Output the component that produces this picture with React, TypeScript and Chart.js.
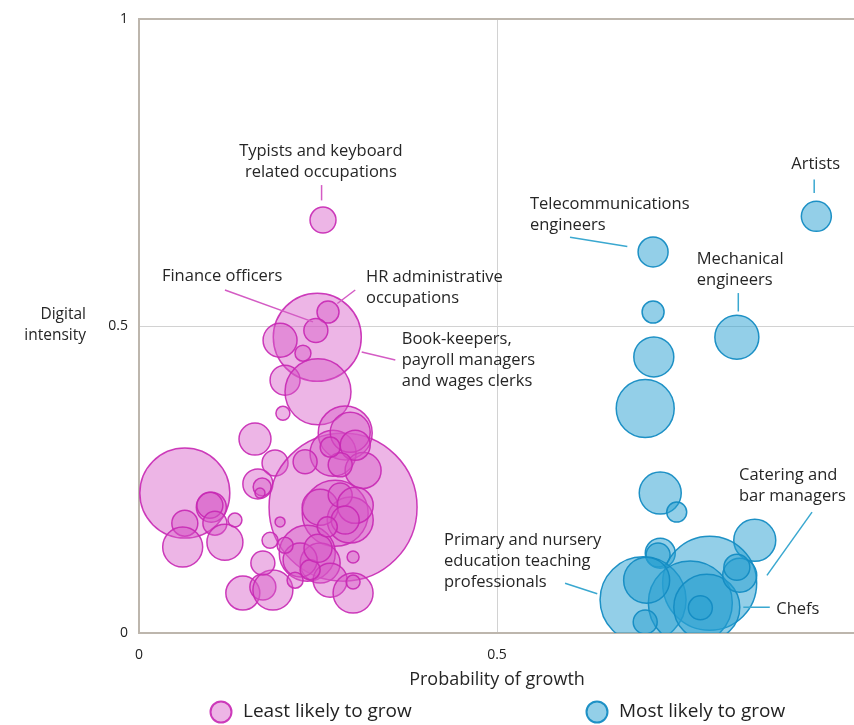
import React, { useEffect, useRef } from "react";
import { Chart, registerables } from "chart.js";

Chart.register(...registerables);

// ---- Data ----
const seriesNames = ["Least likely to grow", "Most likely to grow"];

const leastX = [0.257, 0.249, 0.264, 0.247, 0.197, 0.229, 0.204, 0.25, 0.201, 0.162, 0.19, 0.166, 0.172, 0.169, 0.064, 0.101, 0.099, 0.106, 0.064, 0.061, 0.12, 0.134, 0.285, 0.288, 0.271, 0.313, 0.274, 0.295, 0.253, 0.299, 0.235, 0.253, 0.225, 0.267, 0.145, 0.173, 0.187, 0.173, 0.299, 0.299, 0.197, 0.295, 0.302, 0.281, 0.267, 0.239, 0.25, 0.204, 0.218, 0.183, 0.281, 0.302, 0.288, 0.263, 0.232];
const leastY = [0.673, 0.482, 0.523, 0.493, 0.477, 0.456, 0.412, 0.393, 0.358, 0.316, 0.277, 0.243, 0.238, 0.228, 0.228, 0.205, 0.208, 0.179, 0.179, 0.14, 0.148, 0.184, 0.205, 0.326, 0.293, 0.265, 0.195, 0.184, 0.205, 0.124, 0.13, 0.114, 0.119, 0.086, 0.065, 0.075, 0.07, 0.114, 0.065, 0.083, 0.181, 0.327, 0.306, 0.274, 0.303, 0.103, 0.138, 0.143, 0.086, 0.151, 0.225, 0.208, 0.184, 0.173, 0.279];
const leastR = [13, 44, 11, 12, 17, 8, 15, 33, 7, 16, 13, 15, 9, 5, 45, 15, 13, 12, 13, 20, 18, 7, 74, 27, 23, 18, 33, 23, 18, 6, 28, 20, 17, 17, 17, 13, 20, 12, 20, 7, 5, 20, 15, 12, 10, 10, 14, 8, 8, 8, 12, 18, 14, 10, 12];

const mostX = [0.946, 0.718, 0.718, 0.835, 0.719, 0.707, 0.728, 0.751, 0.86, 0.728, 0.725, 0.797, 0.704, 0.77, 0.793, 0.784, 0.839, 0.835, 0.707, 0.709];
const mostY = [0.679, 0.621, 0.523, 0.482, 0.45, 0.366, 0.228, 0.197, 0.151, 0.13, 0.127, 0.081, 0.054, 0.049, 0.042, 0.041, 0.094, 0.107, 0.018, 0.086];
const mostR = [15, 15, 11, 22, 20, 29, 21, 10, 21, 15, 12, 47, 43, 42, 33, 12, 17, 13, 12, 23];

const xTicks = [0, 0.5];
const xTickLabels = ["0", "0.5"];
const yTicks = [0, 0.5, 1];
const yTickLabels = ["0", "0.5", "1"];

const xTitle = "Probability of growth";
const yTitle = ["Digital", "intensity"];

// Callout labels (data units), series index 0 = least, 1 = most
const callouts = [
  { s: 0, lines: ["Typists and keyboard", "related occupations"], tx: 0.254, ty: 0.785, align: "center", l: [0.255, 0.73, 0.255, 0.705] },
  { s: 0, lines: ["Finance officers"], tx: 0.032, ty: 0.581, align: "left", l: [0.12, 0.559, 0.243, 0.507] },
  { s: 0, lines: ["HR administrative", "occupations"], tx: 0.317, ty: 0.58, align: "left", l: [0.302, 0.559, 0.277, 0.537] },
  { s: 0, lines: ["Book-keepers,", "payroll managers", "and wages clerks"], tx: 0.367, ty: 0.479, align: "left", l: [0.311, 0.458, 0.358, 0.445] },
  { s: 1, lines: ["Telecommunications", "engineers"], tx: 0.546, ty: 0.699, align: "left", l: [0.602, 0.645, 0.682, 0.63] },
  { s: 1, lines: ["Artists"], tx: 0.911, ty: 0.764, align: "left", l: [0.943, 0.739, 0.943, 0.717] },
  { s: 1, lines: ["Mechanical", "engineers"], tx: 0.779, ty: 0.609, align: "left", l: [0.837, 0.554, 0.837, 0.524] },
  { s: 1, lines: ["Catering and", "bar managers"], tx: 0.838, ty: 0.257, align: "left", l: [0.94, 0.197, 0.877, 0.094] },
  { s: 1, lines: ["Primary and nursery", "education teaching", "professionals"], tx: 0.426, ty: 0.151, align: "left", l: [0.595, 0.081, 0.64, 0.064] },
  { s: 1, lines: ["Chefs"], tx: 0.89, ty: 0.039, align: "left", l: [0.844, 0.042, 0.881, 0.042] },
];

const FONT = '"Open Sans", "DejaVu Sans", sans-serif';
const fills = ["rgba(214, 90, 200, 0.45)", "rgba(40, 160, 210, 0.5)"];
const borders = ["rgba(200, 40, 180, 0.9)", "rgba(20, 140, 195, 0.95)"];
const leaderColors = ["#d45cc4", "#3aa8d0"];
const AXIS = "#bdb6ad";

const overlay = {
  id: "overlay",
  afterDatasetsDraw(chart: any) {
    const { ctx, scales } = chart;
    const xs = scales.x, ys = scales.y;
    ctx.save();
    // callouts
    ctx.font = `16.5px ${FONT}`;
    ctx.textBaseline = "middle";
    for (const c of callouts) {
      ctx.strokeStyle = leaderColors[c.s];
      ctx.lineWidth = 1.5;
      ctx.beginPath();
      ctx.moveTo(xs.getPixelForValue(c.l[0]), ys.getPixelForValue(c.l[1]));
      ctx.lineTo(xs.getPixelForValue(c.l[2]), ys.getPixelForValue(c.l[3]));
      ctx.stroke();
      ctx.fillStyle = "#262626";
      ctx.textAlign = c.align as CanvasTextAlign;
      const px = xs.getPixelForValue(c.tx);
      const py = ys.getPixelForValue(c.ty);
      c.lines.forEach((t, i) => ctx.fillText(t, px, py + i * 21));
    }
    // axis titles
    ctx.fillStyle = "#262626";
    ctx.font = `18px ${FONT}`;
    ctx.textAlign = "center";
    ctx.fillText(xTitle, (xs.getPixelForValue(0) + xs.getPixelForValue(1)) / 2, 680);
    ctx.font = `15.5px ${FONT}`;
    ctx.textAlign = "right";
    const yMid = ys.getPixelForValue(0.5);
    ctx.fillText(yTitle[0], 86, yMid - 12);
    ctx.fillText(yTitle[1], 86, yMid + 9);
    // legend
    const legendX = [221, 597];
    ctx.font = `19px ${FONT}`;
    ctx.textAlign = "left";
    seriesNames.forEach((name, i) => {
      ctx.beginPath();
      ctx.arc(legendX[i], 712, 10.5, 0, Math.PI * 2);
      ctx.fillStyle = fills[i];
      ctx.fill();
      ctx.strokeStyle = borders[i];
      ctx.lineWidth = 2;
      ctx.stroke();
      ctx.fillStyle = "#222";
      ctx.fillText(name, legendX[i] + 22, 712);
    });
    ctx.restore();
  },
};

export default function App() {
  const ref = useRef<HTMLCanvasElement | null>(null);
  useEffect(() => {
    if (!ref.current) return;
    const toPts = (xa: number[], ya: number[], ra: number[]) => xa.map((x, i) => ({ x, y: ya[i], r: ra[i] }));
    const chart = new Chart(ref.current, {
      type: "bubble",
      data: {
        datasets: [
          { label: seriesNames[0], data: toPts(leastX, leastY, leastR), backgroundColor: fills[0], borderColor: borders[0], borderWidth: 1.5 },
          { label: seriesNames[1], data: toPts(mostX, mostY, mostR), backgroundColor: fills[1], borderColor: borders[1], borderWidth: 1.5 },
        ],
      },
      options: {
        responsive: false,
        animation: false,
        events: [],
        layout: { autoPadding: false, padding: { top: 19, right: 0, left: 0, bottom: 0 } },
        plugins: { legend: { display: false }, tooltip: { enabled: false } },
        scales: {
          x: {
            type: "linear",
            min: 0,
            max: 0.9986,
            afterBuildTicks: (s: any) => { s.ticks = xTicks.map((v) => ({ value: v })); },
            afterFit: (s: any) => { s.height = 92; },
            ticks: {
              padding: 14,
              color: "#222",
              font: { family: FONT, size: 14 },
              callback: (v: any) => xTickLabels[xTicks.indexOf(Number(v))] ?? "",
            },
            grid: {
              drawTicks: false,
              color: (c: any) => (c.tick && c.tick.value === 0 ? AXIS : "#d2d2d2"),
              lineWidth: (c: any) => (c.tick && c.tick.value === 0 ? 2 : 1),
            },
            border: { display: true, color: AXIS, width: 2 },
          },
          y: {
            type: "linear",
            min: 0,
            max: 1,
            afterBuildTicks: (s: any) => { s.ticks = yTicks.map((v) => ({ value: v })); },
            afterFit: (s: any) => { s.width = 139; },
            ticks: {
              padding: 11,
              color: "#222",
              font: { family: FONT, size: 14 },
              callback: (v: any) => yTickLabels[yTicks.indexOf(Number(v))] ?? "",
            },
            grid: {
              drawTicks: false,
              color: (c: any) => (c.tick && c.tick.value !== 0.5 ? AXIS : "#d2d2d2"),
              lineWidth: (c: any) => (c.tick && c.tick.value !== 0.5 ? 2 : 1),
            },
            border: { display: true, color: AXIS, width: 2 },
          },
        },
      },
      plugins: [overlay],
    } as any);
    return () => chart.destroy();
  }, []);
  return (
    <div style={{ position: "absolute", left: 0, top: 0, width: 854, height: 725, background: "#fff" }}>
      <canvas ref={ref} width={854} height={725} style={{ width: 854, height: 725, display: "block" }} />
    </div>
  );
}
